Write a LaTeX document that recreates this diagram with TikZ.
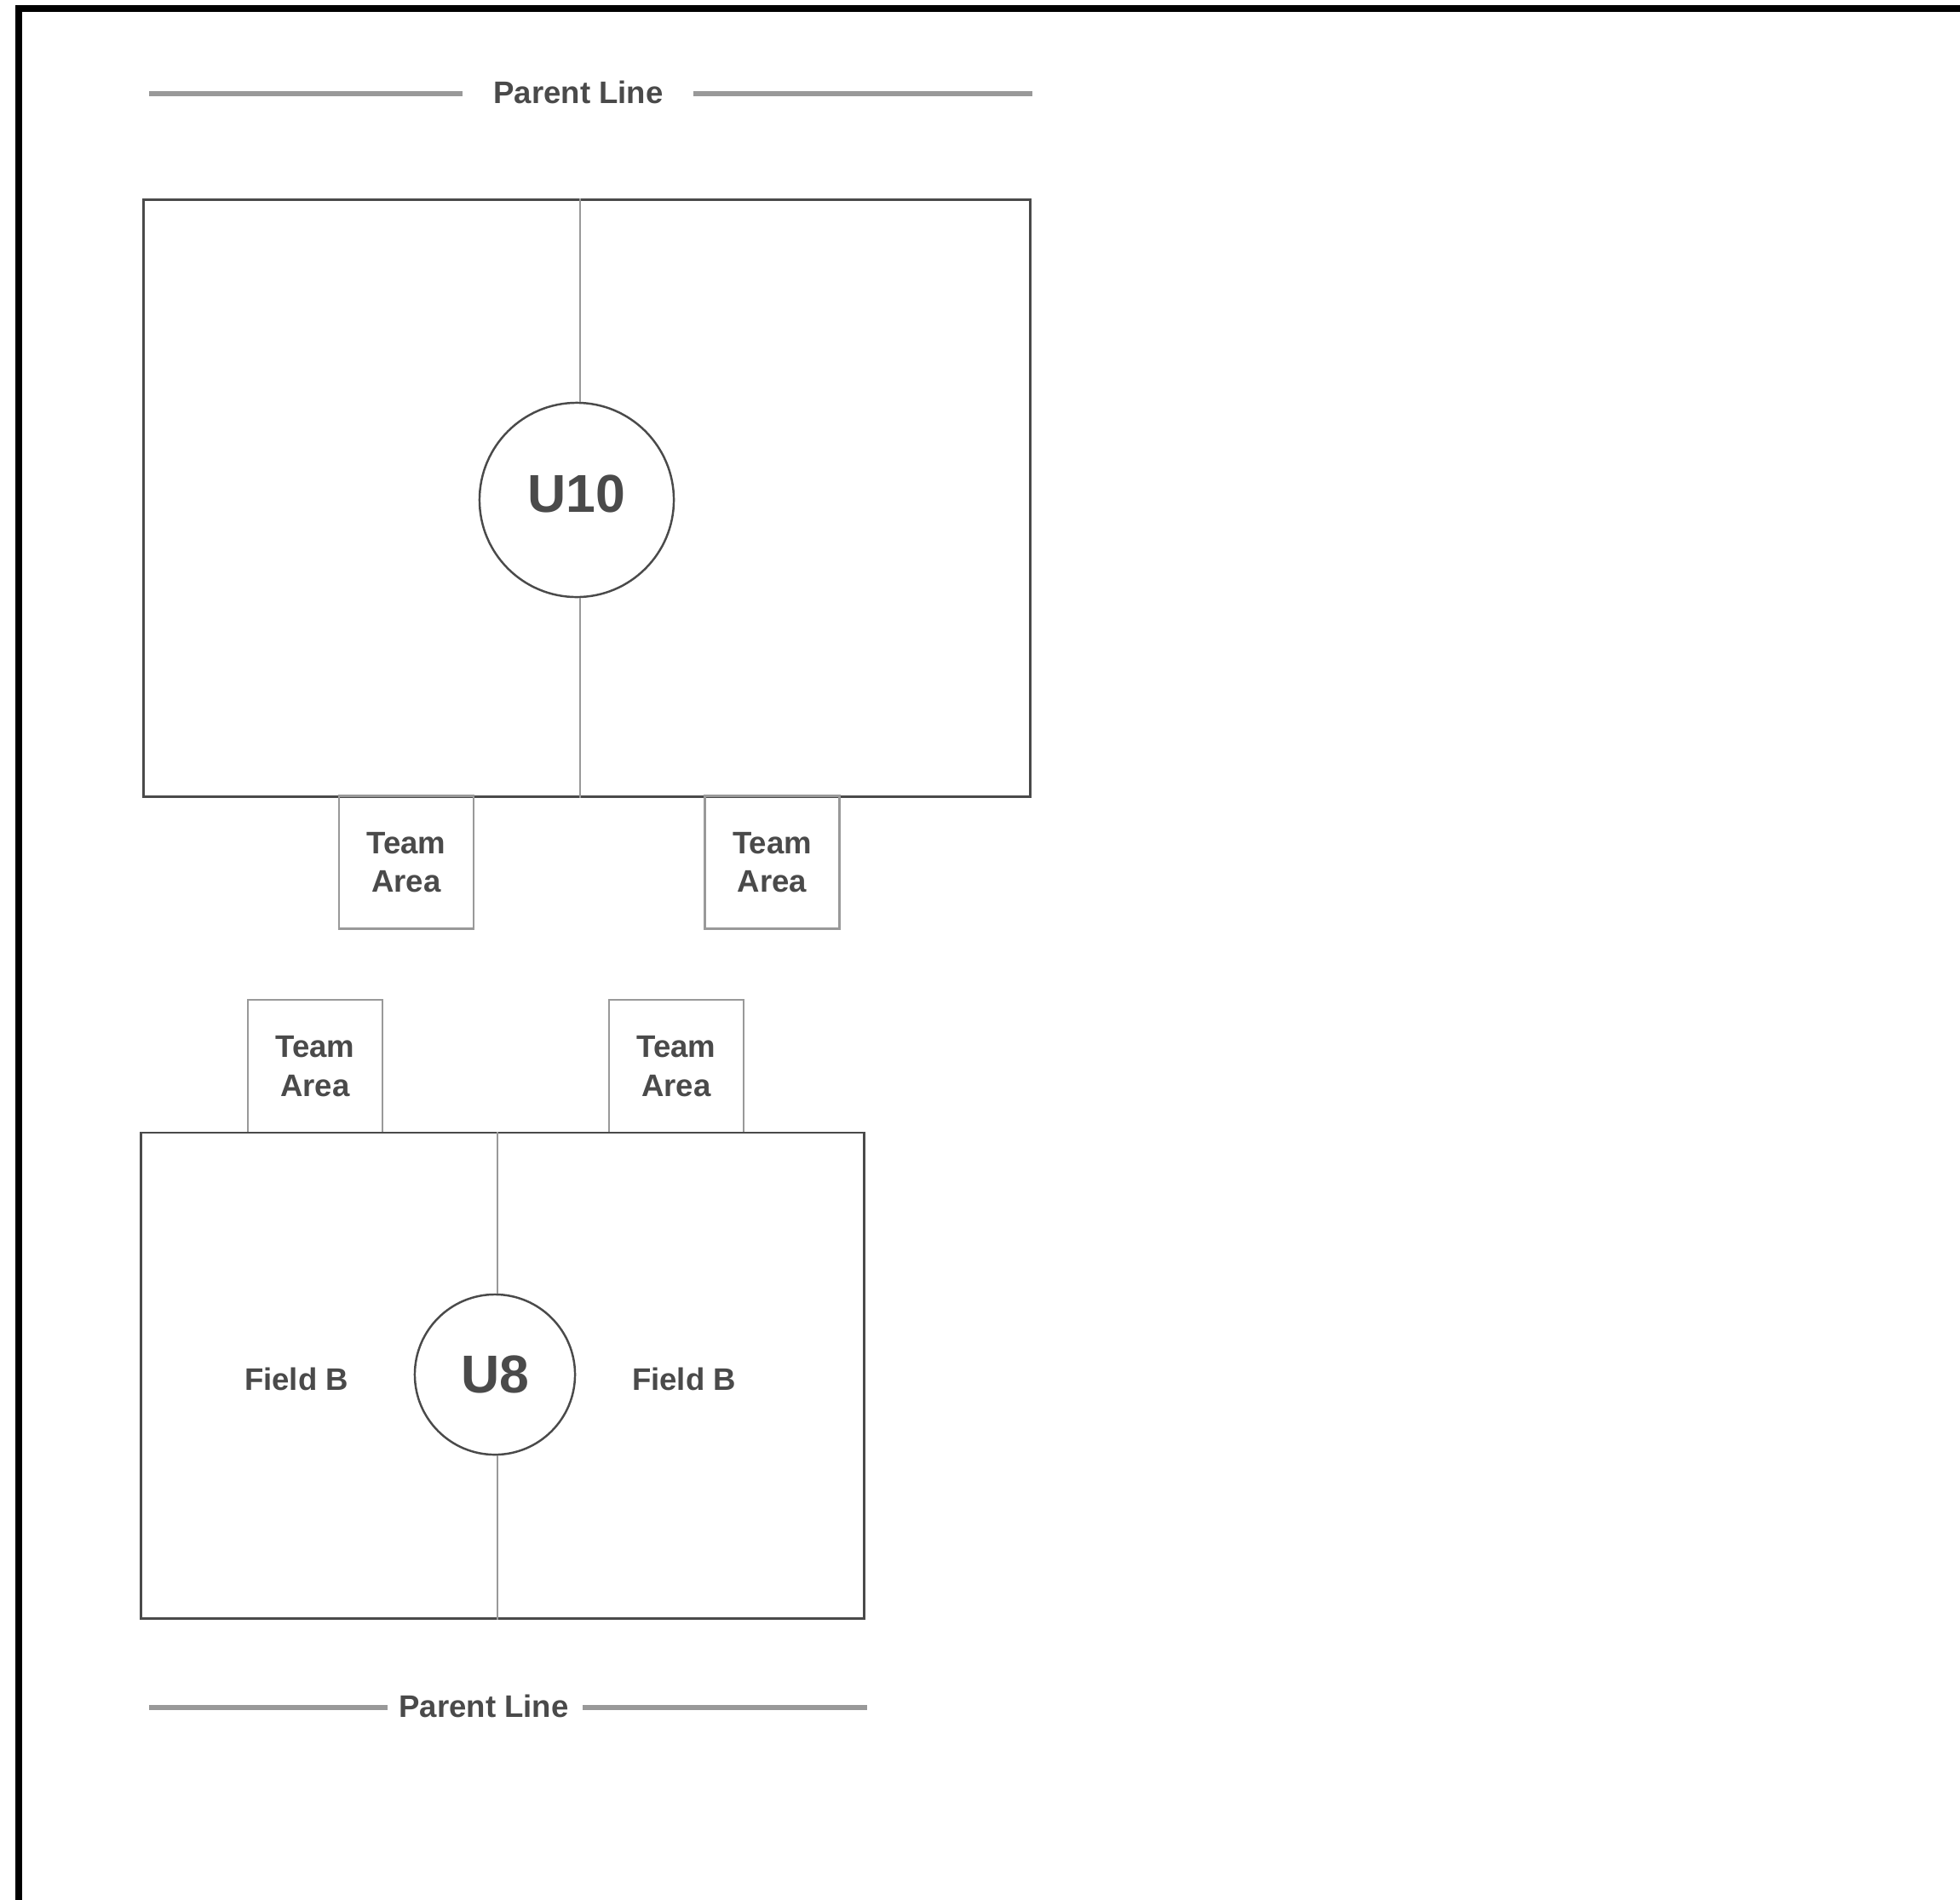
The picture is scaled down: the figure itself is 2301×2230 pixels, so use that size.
\documentclass[tikz,border=0pt]{standalone}
\usepackage{fontspec}
\setmainfont{Liberation Sans}
\begin{document}
\begin{tikzpicture}[x=0.01cm,y=-0.01cm,
  txt/.style={text=darkt,font=\bfseries\fontsize{10.4pt}{12.9pt}\selectfont,align=center,inner sep=0pt},
  field/.style={draw=darkt,line width=0.75pt,minimum width=#1,inner sep=0pt},
  teamarea/.style={draw=lightg,line width=0.75pt,minimum width=1.58cm,minimum height=1.56cm,inner sep=0pt,txt},
  ring/.style={circle,draw=darkt,line width=0.7pt,minimum size=#1,inner sep=0pt,text=darkt,font=\bfseries\fontsize{17.8pt}{20pt}\selectfont},
  midline/.style={draw=lightg,line width=0.6pt},
  parentline/.style={draw=lightg,line width=1.5pt}]
\definecolor{darkt}{HTML}{4A4A4A}
\definecolor{lightg}{HTML}{999999}
\useasboundingbox (0,0) rectangle (2301,2230);
\fill[white] (0,0) rectangle (2301,2230);
% frame
\draw[black,line width=2.3pt] (22,2240) -- (22,10) -- (2310,10);
% top parent line
\node[txt] (ptop) at (679,108) {Parent Line};
\coordinate (pt1) at (175,110);
\coordinate (pt2) at (1212,110);
\draw[parentline] (pt1) -- (543,110);
\draw[parentline] (814,110) -- (pt2);
% U10 field
\node[field=10.4cm,minimum height=7cm] (f10) at (689,585) {};
\node[ring=2.28cm] (c10) at (677,587) {\raisebox{4pt}{U10}};
\draw[midline] (f10.north -| 681,0) -- (681,0 |- c10.north);
\draw[midline] (681,0 |- c10.south) -- (f10.south -| 681,0);
\node[teamarea] (ta1) at (477,1012.5) {Team\\Area};
\node[teamarea] (ta2) at (906.5,1012.5) {Team\\Area};
% U8 field
\node[teamarea] (ta3) at (370,1252) {Team\\Area};
\node[teamarea] (ta4) at (794,1252) {Team\\Area};
\node[field=8.48cm,minimum height=5.7cm] (f8) at (590,1615) {};
\node[ring=1.88cm] (c8) at (581,1614) {\raisebox{-2pt}{U8}};
\draw[midline] (f8.north -| 584,0) -- (584,0 |- c8.north);
\draw[midline] (584,0 |- c8.south) -- (f8.south -| 584,0);
\node[txt] (fb1) at (348,1619) {Field B};
\node[txt] (fb2) at (803,1619) {Field B};
% bottom parent line
\node[txt] (pbot) at (568,2003) {Parent Line};
\coordinate (pb1) at (175,2005);
\coordinate (pb2) at (1018,2005);
\draw[parentline] (pb1) -- (455,2005);
\draw[parentline] (684,2005) -- (pb2);
\end{tikzpicture}
\end{document}
